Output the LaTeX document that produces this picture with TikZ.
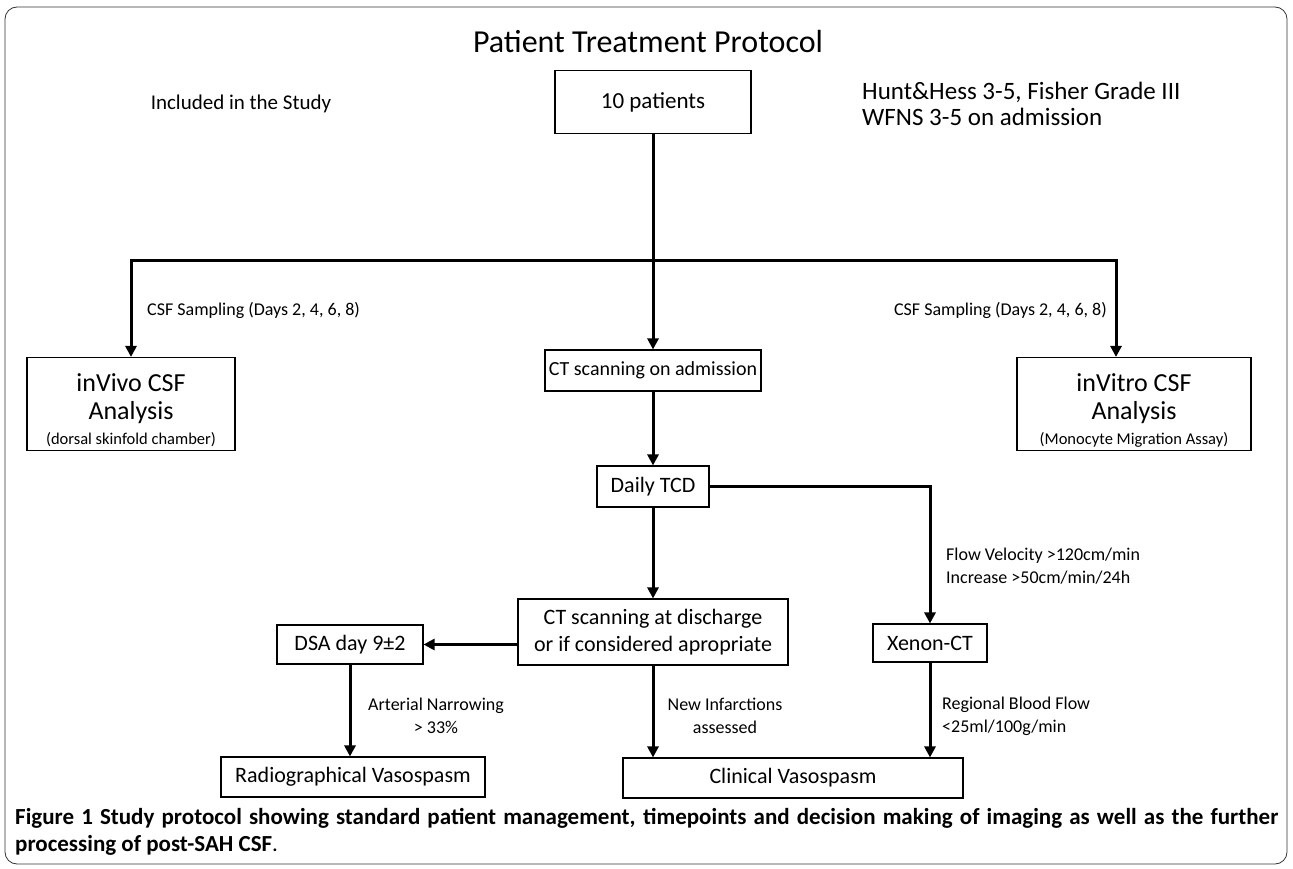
\documentclass[tikz,border=0pt]{standalone}
\usepackage{fontspec}
\setmainfont{Carlito}
\usetikzlibrary{arrows.meta}
\begin{document}
\begin{tikzpicture}[x=1pt,y=-1pt,
 box/.style={draw,line width=1.1pt,inner sep=0pt,align=center,font=\fontsize{22}{27}\selectfont},
 bigbox/.style={box,font=\fontsize{26}{28}\selectfont},
 arr/.style={line width=3pt,-{Triangle[length=11pt,width=11pt]}},
 lab/.style={font=\fontsize{18}{23}\selectfont,inner sep=0pt}]
\useasboundingbox (0,0) rectangle (1293,869);
\draw[line width=0.8pt, rounded corners=12pt, draw=black!80] (5,7) rectangle (1287,864);

\node[font=\fontsize{32}{38}\selectfont] (title) at (648,42) {Patient Treatment Protocol};
\node[font=\fontsize{21}{25}\selectfont] (incl) at (241,104) {Included in the Study};
\node[box,minimum width=196pt,minimum height=63pt,font=\fontsize{23}{27}\selectfont] (p10) at (653,102) {10 patients};
\node[anchor=west,align=left,inner sep=0pt,font=\fontsize{25}{26}\selectfont] (hh) at (862,104) {Hunt\&Hess 3-5, Fisher Grade III\\WFNS 3-5 on admission};

\node[box,minimum width=216pt,minimum height=41pt,font=\fontsize{20}{24}\selectfont] (adm) at (653,370.5) {CT scanning on admission};
\node[bigbox,minimum width=208pt,minimum height=93pt] (vivo) at (131,404) {\rule{0pt}{31pt}inVivo CSF\\Analysis\\[-3pt]{\fontsize{16.5}{20}\selectfont (dorsal skinfold chamber)}};
\node[bigbox,minimum width=234pt,minimum height=93pt] (vitro) at (1134,404) {\rule{0pt}{31pt}inVitro CSF\\Analysis\\[-3pt]{\fontsize{16.5}{20}\selectfont (Monocyte Migration Assay)}};

\coordinate (jc) at (653,260);
\coordinate (jr) at (1116,260);
\draw[arr] (p10.south) -- (adm.north);
\draw[arr] (jc) -| (vivo.north);
\draw[arr] (jc) -| (jr |- vitro.north);

\node[lab,anchor=west] (csfl) at (147,310) {CSF Sampling (Days 2, 4, 6, 8)};
\node[lab,anchor=east] (csfr) at (1107,310) {CSF Sampling (Days 2, 4, 6, 8)};

\node[box,minimum width=112pt,minimum height=41pt] (tcd) at (653,486.5) {Daily TCD};
\draw[arr] (adm) -- (tcd);
\node[box,minimum width=270pt,minimum height=66pt] (cpd) at (653,632) {CT scanning at discharge\\or if considered apropriate};
\draw[arr] (tcd) -- (cpd);
\node[box,minimum width=114pt,minimum height=38pt] (xen) at (930,643) {Xenon-CT};
\draw[arr] (tcd.east) -| (xen.north);
\node[lab,anchor=west,align=left] (flow) at (946,566) {Flow Velocity >120cm/min\\Increase >50cm/min/24h};

\node[box,minimum width=146pt,minimum height=39pt] (dsa) at (350,644.5) {DSA day 9±2};
\draw[arr] (cpd.west |- dsa) -- (dsa.east);
\node[box,minimum width=264pt,minimum height=40pt] (rad) at (353,777) {Radiographical Vasospasm};
\node[box,minimum width=340pt,minimum height=40pt] (clin) at (793,778) {Clinical Vasospasm};
\draw[arr] (dsa.south) -- (dsa.south |- rad.north);
\draw[arr] (cpd.south) -- (cpd.south |- clin.north);
\draw[arr] (xen.south) -- (xen.south |- clin.north);

\node[lab,align=center] (an) at (436,716) {Arterial Narrowing\\> 33\%};
\node[lab,align=center] (ni) at (725,716) {New Infarctions\\assessed};
\node[lab,anchor=west,align=left] (rb) at (942,716) {Regional Blood Flow\\<25ml/100g/min};

\node[anchor=west,align=left,inner sep=0pt,font=\bfseries\fontsize{23}{27}\selectfont] (cap) at (15,832) {\makebox[1263pt][s]{Figure 1 Study protocol showing standard patient management, timepoints and decision making of imaging as well as the further}\\processing of post-SAH CSF{\mdseries .}};
\end{tikzpicture}
\end{document}
